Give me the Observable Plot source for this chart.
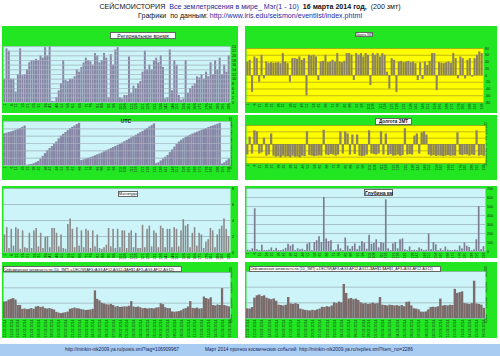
<!DOCTYPE html>
<html><head><meta charset="utf-8">
<script src="https://cdn.jsdelivr.net/npm/d3@7"></script>
<script src="https://cdn.jsdelivr.net/npm/@observablehq/plot@0.6"></script>
<style>
body{margin:0;width:500px;height:356px;position:relative;background:#fff;font-family:Arial,"Liberation Sans",sans-serif;overflow:hidden}
.hdr{position:absolute;left:0;width:500px;text-align:center;font-size:7.1px;white-space:nowrap;color:#111}
.frame{position:absolute;background:#22e622}
.pl{position:absolute}
.tbox{position:absolute;background:#fff;border:0.5px solid #666;white-space:nowrap;color:#111;box-sizing:border-box;text-align:center}
.foot{position:absolute;left:0;top:344px;width:500px;height:12px;background:#a9cdf2;font-size:4.8px;color:#1a2050;white-space:nowrap}
</style></head><body>
<div class="hdr" style="top:3px">СЕЙСМОИСТОРИЯ&nbsp; <span style="color:#1c2c9c">Все землетрясения в мире_ Мэг(1 - 10)</span>&nbsp; <b>16 марта 2014 год,</b>&nbsp; (200 змт)</div>
<div class="hdr" style="top:12px">Графики&nbsp; по данным: <span style="color:#1c2ca8">http://www.iris.edu/seismon/eventlist/index.phtml</span></div>
<script>
const eventLabels = ["1","6","11","16","21","26","31","36","41","46","51","56","61","66","71","76","81","86","91","96","101","106","111","116","121","126","131","136","141","146","151","156","161","166","171","176","181","186","191","196"];
const dateLabels = ["11.02.2014","12.02.2014","13.02.2014","14.02.2014","15.02.2014","16.02.2014","17.02.2014","18.02.2014","19.02.2014","20.02.2014","21.02.2014","22.02.2014","23.02.2014","24.02.2014","25.02.2014","26.02.2014","27.02.2014","28.02.2014","01.03.2014","02.03.2014","03.03.2014","04.03.2014","05.03.2014","06.03.2014","07.03.2014","08.03.2014","09.03.2014","10.03.2014","11.03.2014","12.03.2014","13.03.2014","14.03.2014","15.03.2014","16.03.2014"];

const regionalTime = [10,23,22,10,10,4.5,12,23,11.5,12,14,17,18,18,18.5,18,20,19,23.5,20,24,0.5,0.3,2,5,8,18,9.5,9,10,10,11,14,13,15,17,19,18,17.5,16,21,20,17,18,21,19,2,20.5,16,22.5,23.5,2,1.5,3,3,19.5,4,7,6,8,9,13,22,14,16,14,18,19,17,20,15,1.5,2,22.5,5,18,16,3,1,1.5,18,4,6,7,8,11,10.5,12,10,13,11,17,12,18,14,19,12,16,13,20];
const utcHours = [17.3,17.6,18,18.3,18.7,19.2,19.7,20.2,20.8,21.5,0.2,0.4,0.6,1,1.5,2.2,3.5,5,6.5,8,9.2,10.3,11.6,12.8,14.5,16,17,18,19,20,20.8,21.5,22.3,23,2.7,3.1,3.5,3.9,4.3,4.8,5.3,5.8,6.3,6.8,7.4,8,8.6,9.2,9.8,10.4,11,11.6,12.3,13,13.7,14.4,15.1,15.8,16.5,17.2,17.9,18.6,19.4,20.2,21,21.8,22.7,1,1.5,2.5,3.5,4.5,5.5,7,8.5,10,11.5,12.8,13.8,14.6,15.4,16,16.6,17.2,17.7,18.2,18.7,19.2,19.7,20.2,20.7,21.2,21.6,22,22.5,23,0.8,1.5,2.5,3.6];
const magnitude = [2.2,3.1,0.5,2.9,0.8,3.1,2.9,0.4,2.7,0.6,0.5,2.4,0.5,2.7,3.0,0.7,2.4,0.5,1.9,2.0,0.6,3.0,3.0,2.4,0.7,2.2,0.5,0.4,3.5,4.2,2.9,0.6,3.1,0.8,2.7,0.6,2.9,2.7,0.5,2.7,0.7,2.2,0.5,0.4,0.6,0.9,3.0,0.7,2.9,0.5,2.9,0.6,2.7,2.7,0.5,2.4,2.7,0.6,2.4,0.5,0.5,3.4,0.6,2.9,3.3,0.7,2.7,2.4,0.6,3.3,3.0,0.6,2.9,2.9,0.6,3.1,2.9,0.7,2.7,4.1,3.3,3.5,0.6,2.4,3.1,0.8,2.4,2.2,0.5,1.3,1.6,3.0,2.7,0.6,2.2,2.9,3.3,4.2,2.9,2.0];
const seismicLeft = [10.7,11,12,12.5,13,12,8.5,8.5,6,6.2,5.8,6,6.5,6,7.5,7.8,7.2,7.5,6.4,6.2,6.5,6,5.5,4,3.5,3.2,3.5,3.8,4.2,6,6.4,6.8,6.4,6.2,5.8,5.5,5.2,5.4,5.6,6,18,12.5,11.5,10,9.5,9,8.8,9.2,8.5,7.5,7.8,7.2,7.4,7.6,7.5,8,11,7.5,7.2,7.5,7,6.4,6.6,6.2,6.4,6.5,6.2,6.8,7,9.6,9,7,6.5,6.4,4.3,4.1,4.3,4.5,5,6,6.4,7.5,11,6.6,6.4,6.8,6.2,6.4,14,13,12.5,13.5,8.5,8.2,8.8,8.5,19.5,8.5,8,7.5];
const latitude = [40,45,-50,55,50,-20,60,-10,40,35,38,36,37,38,35,65,40,35,-20,50,50,48,55,45,50,-60,60,58,60,55,-15,40,42,60,38,40,45,40,65,40,38,42,65,65,60,-15,65,60,65,55,65,60,-30,65,60,65,55,65,60,10,-40,50,45,-50,40,42,38,40,42,38,40,35,-15,38,-12,40,30,42,65,65,-45,38,36,35,38,40,36,65,50,-10,55,50,-10,45,50,-5,50,60,70,65];
const longitude = [-100,70,-90,130,120,-90,-80,60,-110,-100,100,-110,-120,-115,-125,-110,-120,-115,-125,-110,-120,-118,-125,-110,-115,120,-105,-110,-115,-112,-108,-110,135,-100,-105,-95,-100,-110,-100,120,-90,120,100,-100,90,-95,90,-110,-115,-110,-100,130,-90,-95,-100,-90,120,-100,100,-105,-95,-110,-108,-100,-112,-105,150,-100,-95,-100,80,100,-90,110,120,90,-100,-110,-105,-112,-108,-110,-115,-110,-105,-112,-108,-110,110,-100,-105,-98,-100,-110,-100,-105,130,-110,-105,-112];
const depth = [15,10,30,475,20,10,70,10,10,15,40,10,35,10,10,20,35,80,60,75,10,30,20,25,10,80,95,10,100,120,165,100,600,140,110,120,10,15,75,30,10,150,60,25,55,85,20,60,110,90,25,180,80,90,130,40,100,90,575,30,10,85,100,30,130,140,20,10,50,10,15,10,40,25,10,15,195,20,100,75,10,30,10,50,15,10,10,15,10,60,30,95,60,45,10,20,130,500,20,55];
const seismicRight = [6.2,6,7,13,14.5,15,14,14.5,13,12.4,12,12.5,11,8.5,8.3,8,8.5,13.4,9.3,9,9.5,9,6,5.5,5.2,5,4.8,5.2,5,5.5,6,7.2,7,7.5,7.2,8,10,9.5,10.5,10,21.7,16,12.4,12.8,12,12.4,11.5,10,9.3,9.5,9,9.3,9.8,9.3,9.5,13.4,8.5,8.3,8,8.5,8.3,8,8.2,7.8,8.3,7.5,10.3,10.5,8,6.2,6,5.5,4.1,4,4.2,5.5,7,7.2,7,7.5,12.4,8,8.3,8,8.5,8.3,18.6,16,16.5,17,9.5,9.3,9,9.5,23.8,9.3,9,8.5,6.5];

const seismicTickLabels = ["0,000","10,000","20,000","30,000"];
const utcTickLabels = ["0:00","4:00","8:00","12:00","16:00","20:00","24:00"];

function panel(o){
  const f = document.createElement("div");
  f.className = "frame";
  Object.assign(f.style,{left:o.left+"px",top:o.top+"px",width:o.w+"px",height:o.h+"px"});
  document.body.appendChild(f);
  const data = o.values.map((v,i)=>({i,v}));
  const n = data.length;
  const xt = o.xLabels.map((_,k)=>Math.round(k*(n-1)/(o.xLabels.length-1)));
  const lab = new Map(xt.map((t,k)=>[t,o.xLabels[k]]));
  const marks = [Plot.frame({fill:o.bg, stroke:null})];
  marks.push(Plot.ruleY(o.yTicks,{stroke:o.grid,strokeWidth:0.6}));
  marks.push(Plot.barY(data,{x:"i",y:"v",fill:o.color}));
  if (o.gridOver) marks.push(Plot.ruleY(o.yTicks,{stroke:o.gridOver,strokeWidth:0.5,strokeOpacity:0.7}));
  const chart = Plot.plot({
    width:o.w, height:o.h,
    marginLeft:o.pl-o.left, marginRight:o.left+o.w-o.pr,
    marginTop:o.pt-o.top, marginBottom:o.top+o.h-o.pb,
    x:{type:"band",round:false,padding:o.pad,ticks:xt,tickFormat:i=>lab.get(i)??"",tickRotate:-90,tickSize:0,tickPadding:1,label:null},
    y:{domain:o.yDomain,axis:"right",ticks:o.yTicks,tickFormat:o.yFormat,tickSize:0,tickPadding:1.5,label:null,tickRotate:o.yRot||0},
    style:{background:"transparent",fontSize:o.fs||"4px",fontFamily:"Arial, sans-serif",color:"#1a2a1a",overflow:"visible"},
    marks
  });
  const d = document.createElement("div");
  d.className = "pl";
  Object.assign(d.style,{left:o.left+"px",top:o.top+"px",width:o.w+"px",height:o.h+"px"});
  d.appendChild(chart);
  document.body.appendChild(d);
  if (o.title){
    const t = document.createElement("div");
    t.className = "tbox";
    t.textContent = o.title.text;
    Object.assign(t.style,{left:o.title.x+"px",top:o.title.y+"px",width:o.title.w+"px",height:o.title.h+"px",fontSize:o.title.fs+"px",lineHeight:o.title.h+"px",fontWeight:o.title.bold?"bold":"normal",textAlign:o.title.align||"center"});
    if (o.title.plain){t.style.background="transparent";t.style.border="none";}
    document.body.appendChild(t);
  }
}

const cyan = "#cdf5f9", yellow = "#ffff00";

panel({left:2,top:26,w:236,h:87,pl:3,pr:230,pt:46,pb:102,values:regionalTime,xLabels:eventLabels,pad:0.12,
  bg:cyan,color:"#8787a5",grid:"#7f9aa2",gridOver:"#d6dbe6",yDomain:[0,24],yTicks:[0,2,4,6,8,10,12,14,16,18,20,22,24],yFormat:d=>d,fs:"3.8px",
  title:{text:"Региональное время",x:110,y:32,w:66,h:7,fs:5.3}});
panel({left:2,top:115,w:236,h:65,pl:3,pr:230,pt:121,pb:165,values:utcHours,xLabels:eventLabels,pad:0.02,
  bg:cyan,color:"#8787a5",grid:"#7f9aa2",gridOver:"#d6dbe6",yDomain:[0,24],yTicks:[0,4,8,12,16,20,24],yFormat:(d,i)=>utcTickLabels[i],yRot:-90,fs:"3.6px",
  title:{text:"UTC",x:118,y:118,w:16,h:6,fs:5,bold:true,plain:true}});
panel({left:2,top:186,w:236,h:72,pl:3,pr:230,pt:188,pb:252,values:magnitude,xLabels:eventLabels,pad:0.3,
  bg:cyan,color:"#8a8a8a",grid:"#8a9ea4",yDomain:[0,8],yTicks:[0,2,4,6,8],yFormat:d=>d,fs:"3.8px",
  title:{text:"Магнитуда",x:118,y:191,w:20,h:5.5,fs:3.6}});
panel({left:2,top:262,w:236,h:76,pl:3,pr:230,pt:272,pb:318,values:seismicLeft,xLabels:dateLabels,pad:0,
  bg:cyan,color:"#7b6b6b",grid:"#8a9ea4",yDomain:[0,30],yTicks:[0,10,20,30],yFormat:(d,i)=>seismicTickLabels[i],yRot:-90,fs:"3.6px",
  title:{text:"Сейсмическая активность по (10_ЗМТ)    =1/ЕСЛИ(AF3>AG3;AF12-AG12+$AH$1;AF3+AG3-AF12-AG12)",x:3,y:266,w:179,h:6,fs:3.6,align:"left"}});

panel({left:245,top:26,w:252,h:87,pl:246,pr:483,pt:48,pb:102,values:latitude,xLabels:eventLabels,pad:0.12,
  bg:yellow,color:"#8c8461",grid:"#9a8a20",yDomain:[-80,80],yTicks:[-80,-60,-40,-20,0,20,40,60,80],yFormat:d=>d,fs:"3.6px",
  title:{text:"Широта ЗМТ",x:355,y:32,w:18,h:5,fs:2.8}});
panel({left:245,top:115,w:252,h:65,pl:246,pr:485,pt:125,pb:163,values:longitude,xLabels:eventLabels,pad:0.05,
  bg:yellow,color:"#8c8461",grid:"#9a8a20",yDomain:[-180,180],yTicks:[-180,-120,-60,0,60,120,180],yFormat:d=>d,yRot:-90,fs:"3.6px",
  title:{text:"Долгота ЗМТ",x:375,y:118,w:37,h:6.5,fs:4.6,bold:true}});
panel({left:245,top:186,w:252,h:72,pl:246,pr:485,pt:188,pb:251,values:depth,xLabels:eventLabels,pad:0.3,
  bg:cyan,color:"#7c7c92",grid:"#8a9ea4",yDomain:[0,700],yTicks:[0,100,200,300,400,500,600,700],yFormat:d=>d,fs:"3.6px",
  title:{text:"Глубина км",x:364,y:189,w:29,h:7,fs:5,bold:true}});
panel({left:245,top:262,w:252,h:76,pl:246,pr:485,pt:271,pb:318,values:seismicRight,xLabels:dateLabels,pad:0,
  bg:cyan,color:"#7b6b6b",grid:"#8a9ea4",yDomain:[0,30],yTicks:[0,10,20,30],yFormat:(d,i)=>seismicTickLabels[i],yRot:-90,fs:"3.6px",
  title:{text:"Сейсмическая активность по (10_ЗМТ)   =1/ЕСЛИ(AF3>AG3;AF12-AG12+$AH$1;$AH$1_AF3+AG3-AF12-AG12)",x:249,y:266,w:192,h:5.5,fs:3.6,align:"left"}});
</script>
<div class="foot"><span style="position:absolute;left:65px;top:3px">http://minkin-nik2009.ya.ru/posts.xml?tag=106909967</span><span style="position:absolute;left:205px;top:3px">Март 2014 прогноз космических событий&nbsp; http://minkin-nik2009.ya.ru/replies.xml?item_no=2286</span></div>
</body></html>
